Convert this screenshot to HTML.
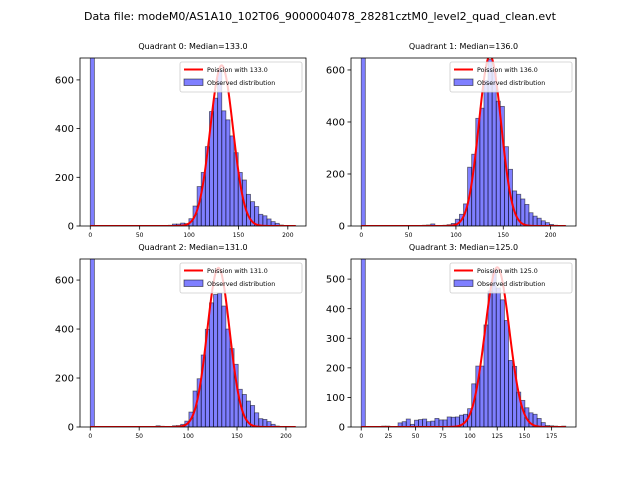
<!DOCTYPE html>
<html><head><meta charset="utf-8"><style>
body{margin:0;background:#fff;width:640px;height:480px;overflow:hidden;font-family:"Liberation Sans","DejaVu Sans",sans-serif}
svg text{font-family:"DejaVu Sans","Liberation Sans",sans-serif}
</style></head><body>
<svg id="fig" width="640" height="480" xmlns="http://www.w3.org/2000/svg">
<rect width="640" height="480" fill="#fff"/>
<text x="320" y="20" text-anchor="middle" font-size="11">Data file: modeM0/AS1A10_102T06_9000004078_28281cztM0_level2_quad_clean.evt</text>
</svg>
<script>
const quadrantNames = ["Quadrant 0: Median=133.0","Quadrant 1: Median=136.0","Quadrant 2: Median=131.0","Quadrant 3: Median=125.0"];
const medians = [133.0,136.0,131.0,125.0];
const dataMax = [208,216,210,188];
const poissonPeak = [660,655,650,540];
const q0Counts = [2000,0,0,0,0,0,0,0,0,0,0,0,0,0,0,0,0,0,1,3,8,8,12,10,30,82,162,220,326,470,525,640,473,436,370,301,220,189,130,100,80,48,42,29,18,11,4,2,1,1];
const q1Counts = [2000,0,0,0,0,0,0,0,0,0,0,0,0,0,0,3,4,8,2,2,3,5,10,26,45,85,226,276,414,453,560,640,600,480,460,305,218,135,122,104,83,51,38,30,20,13,6,3,2,1];
const q2Counts = [2000,0,0,0,0,0,0,0,0,0,0,0,0,0,0,0,5,3,0,0,5,6,11,24,61,147,197,294,399,507,541,546,494,400,320,256,154,133,106,88,58,34,31,22,11,4,2,1,0,0];
const q3Counts = [2000,0,0,0,0,3,3,2,0,14,18,27,9,23,25,27,18,20,29,24,24,34,33,34,40,43,62,146,206,206,345,460,530,470,430,360,225,205,118,90,65,48,43,29,15,5,4,3,1,3];
const yLimits = [690,646,686,568];
const yTicksA = [0,200,400,600];
const yTicksB = [0,100,200,300,400,500];
const xTicksA = [0,50,100,150,200];
const xTicksB = [0,25,50,75,100,125,150,175];

const allCounts=[q0Counts,q1Counts,q2Counts,q3Counts];
const boxes=[[80,58,306,226],[351,58,576,226],[80,259,306,427],[351,259,576,427]];
const NS="http://www.w3.org/2000/svg";
const fig=document.getElementById('fig');
function mk(tag,attrs,parent){const e=document.createElementNS(NS,tag);for(const k in attrs)e.setAttribute(k,attrs[k]);(parent||fig).appendChild(e);return e;}

for(let q=0;q<4;q++){
  const [L,T,R,B]=boxes[q];
  const g=mk('g',{});
  
  
  const clipId='clip'+q;
  const cp=mk('clipPath',{id:clipId},g);mk('rect',{x:L,y:T,width:R-L,height:B-T},cp);
  const mx=dataMax[q]*0.05;
  const x0=-mx,x1=dataMax[q]+mx;
  const X=v=>L+(v-x0)/(x1-x0)*(R-L);
  const Y=v=>B-v/yLimits[q]*(B-T);
  const counts=allCounts[q];
  const bw=dataMax[q]/counts.length;
  const bars=mk('g',{'clip-path':'url(#'+clipId+')'},g);
  counts.forEach((c,i)=>{
    if(c<=0)return;
    const r=mk('rect',{x:X(i*bw),y:Y(c),width:X((i+1)*bw)-X(i*bw),height:Y(0)-Y(c),fill:'rgba(0,0,255,0.5)',stroke:'rgba(0,0,0,0.55)','stroke-width':0.8},bars);
    
    
  });
  // poisson curve
  let d='';const mu=medians[q];
  for(let v=0;v<=dataMax[q];v+=0.5){
    const y=poissonPeak[q]*Math.exp(-(v-mu)*(v-mu)/(2*mu));
    d+=(d?'L':'M')+X(v).toFixed(2)+','+Y(y).toFixed(2);
  }
  const pl=mk('path',{d:d,fill:'none',stroke:'red','stroke-width':2,'clip-path':'url(#'+clipId+')'},g);
  
  
  mk('rect',{x:L,y:T,width:R-L,height:B-T,fill:'none',stroke:'#000','stroke-width':0.8},g);
  const xt=q===3?xTicksB:xTicksA, yt=q===3?yTicksB:yTicksA;
  xt.forEach(v=>{
    mk('line',{x1:X(v),x2:X(v),y1:B,y2:B+3.5,stroke:'#000','stroke-width':0.8},g);
    const t=mk('text',{x:X(v),y:B+11,'text-anchor':'middle','font-size':6},g);t.textContent=v;
    
    
  });
  yt.forEach(v=>{
    mk('line',{x1:L,x2:L-3.5,y1:Y(v),y2:Y(v),stroke:'#000','stroke-width':0.8},g);
    const t=mk('text',{x:L-6,y:Y(v)+3.6,'text-anchor':'end','font-size':10},g);t.textContent=v;
    
    
  });
  const ti=mk('text',{x:(L+R)/2,y:T-9,'text-anchor':'middle','font-size':8},g);ti.textContent=quadrantNames[q];
  
  
  // legend
  const lg=mk('g',{},g);
  
  
  const lx=R-126,ly=T+4;
  mk('rect',{x:lx,y:ly,width:122,height:30,fill:'rgba(255,255,255,0.8)',stroke:'#ccc','stroke-width':0.8,rx:2},lg);
  mk('line',{x1:lx+4,x2:lx+23,y1:ly+7.5,y2:ly+7.5,stroke:'red','stroke-width':2},lg);
  const t1=mk('text',{x:lx+27,y:ly+10,'font-size':6.3},lg);t1.textContent='Poission with '+medians[q].toFixed(1);
  
  
  mk('rect',{x:lx+4,y:ly+17,width:19,height:6.5,fill:'rgba(0,0,255,0.5)',stroke:'rgba(0,0,0,0.6)','stroke-width':0.8},lg);
  const t2=mk('text',{x:lx+27,y:ly+23,'font-size':6.3},lg);t2.textContent='Observed distribution';
  
  
}
</script>
</body></html>
